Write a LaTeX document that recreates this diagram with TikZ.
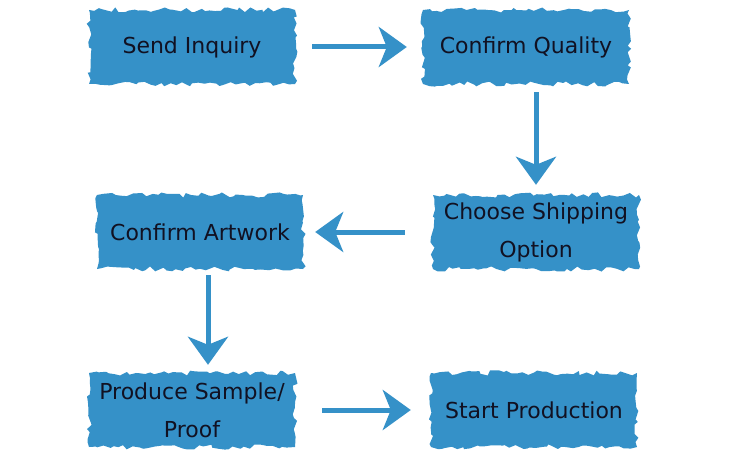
\documentclass[tikz,border=0pt]{standalone}
\usepackage{fontspec}
\setmainfont{DejaVu Sans}
\usetikzlibrary{arrows.meta,decorations.pathmorphing,calc}
\definecolor{brush}{HTML}{3591C8}
\definecolor{ink}{HTML}{111122}
\begin{document}
\begin{tikzpicture}[x=1pt,y=-1pt,
  box/.style={fill=brush, minimum width=206pt, minimum height=74pt, inner sep=0pt,
    align=center, text=ink, font=\fontsize{22}{38}\selectfont,
    decorate, decoration={random steps, segment length=5pt, amplitude=2.6pt}},
  flow/.style={draw=brush, line width=5pt,
    -{Stealth[length=28pt,width=40pt,inset=8pt]}}]
\pgfmathsetseed{11}
\fill[white] (0,0) rectangle (750,460);
\useasboundingbox (0,0) rectangle (750,460);
\node[box] (b1) at (192,47) {Send Inquiry};
\node[box] (b2) at (526,47) {Confirm Quality};
\node[box] (b3) at (536,232) {Choose Shipping\\Option};
\node[box] (b4) at (200,232) {Confirm Artwork};
\node[box] (b5) at (192,410) {Produce Sample/\\Proof};
\node[box] (b6) at (534,410) {Start Production};
\draw[flow, shorten <=17pt, shorten >=16pt] (b1.east) -- (b2.west);
\draw[flow, shorten <=8pt, shorten >=10pt] (b3.north |- b2.south) -- (b3.north);
\draw[flow, shorten <=28pt, shorten >=12pt] (b3.west) -- (b4.east);
\draw[flow, shorten <=6pt, shorten >=8pt] ($(b4.south)+(8,0)$) -- ($(b5.north)+(16,0)$);
\draw[flow, shorten <=27pt, shorten >=20pt] (b5.east) -- (b6.west);
\end{tikzpicture}
\end{document}
